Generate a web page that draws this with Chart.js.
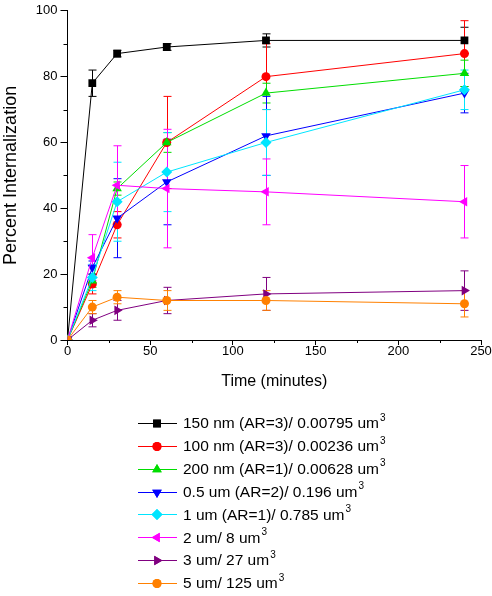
<!DOCTYPE html>
<html>
<head>
<meta charset="utf-8">
<script src="https://cdn.jsdelivr.net/npm/chart.js@4.4.1/dist/chart.umd.min.js"></script>
<style>
  html, body { margin: 0; padding: 0; background: #fff; }
  #wrap { width: 492px; height: 596px; position: relative; }
</style>
</head>
<body>
<div id="wrap"><canvas id="chart" width="492" height="596"></canvas></div>
<script>
// time points (minutes)
const times = [0, 15, 30, 60, 120, 240];

// legend labels (the trailing "3" is drawn as a superscript)
const seriesLabels = [
  '150 nm (AR=3)/ 0.00795 um',
  '100 nm (AR=3)/ 0.00236 um',
  '200 nm (AR=1)/ 0.00628 um',
  '0.5 um (AR=2)/ 0.196 um',
  '1 um (AR=1)/ 0.785 um',
  '2 um/ 8 um',
  '3 um/ 27 um',
  '5 um/ 125 um'
];

// percent internalization and error (+/-) for each particle
const nm150 = [0, 78, 87, 89, 91, 91];
const nm150Err = [0, 4, 1, 1, 2, 4];
const nm100 = [0, 17, 35, 60, 80, 87];
const nm100Err = [0, 3, 4, 14, 10, 10];
const nm200 = [0, 18, 46, 60, 75, 81];
const nm200Err = [0, 2, 2, 3, 3, 4];
const um05 = [0, 22, 37, 48, 62, 75];
const um05Err = [0, 2, 12, 13, 12, 6];
const um1 = [0, 19, 42, 51, 60, 76];
const um1Err = [0, 4, 12, 12, 10, 6];
const um2 = [0, 25, 47, 46, 45, 42];
const um2Err = [0, 7, 12, 18, 10, 11];
const um3 = [0, 6, 9, 12, 14, 15];
const um3Err = [0, 2, 3, 4, 5, 6];
const um5 = [0, 10, 13, 12, 12, 11];
const um5Err = [0, 2, 2, 3, 3, 4];

const xTicks = [0, 50, 100, 150, 200, 250];
const yTicks = [0, 20, 40, 60, 80, 100];

const FONT = '"Liberation Sans", Arial, Helvetica, sans-serif';

// style per series: colour, marker, rotation, radius
const styles = [
  { color: '#000000', point: 'rect', rot: 0, r: 5.5 },
  { color: '#ff0000', point: 'circle', rot: 0, r: 4.5 },
  { color: '#00dd00', point: 'triangle', rot: 0, r: 5.5 },
  { color: '#0000ff', point: 'triangle', rot: 180, r: 5.5 },
  { color: '#00e5ff', point: 'rectRot', rot: 0, r: 5.5 },
  { color: '#ff00ff', point: 'triangle', rot: -90, r: 5.5 },
  { color: '#800080', point: 'triangle', rot: 90, r: 5.5 },
  { color: '#ff8000', point: 'circle', rot: 0, r: 4.5 }
];

const values = [nm150, nm100, nm200, um05, um1, um2, um3, um5];
const errors = [nm150Err, nm100Err, nm200Err, um05Err, um1Err, um2Err, um3Err, um5Err];

const datasets = values.map((vals, i) => ({
  label: seriesLabels[i],
  data: vals.map((v, k) => ({ x: times[k], y: v })),
  errors: errors[i],
  borderColor: styles[i].color,
  backgroundColor: styles[i].color,
  borderWidth: 1,
  pointStyle: styles[i].point,
  pointRotation: styles[i].rot,
  pointRadius: styles[i].r,
  pointBorderWidth: 0,
  pointHoverRadius: styles[i].r,
  tension: 0,
  order: -i // later series drawn on top
}));

// error bars, drawn under the lines
const errorBarPlugin = {
  id: 'errorBars',
  beforeDatasetsDraw(chart) {
    const ctx = chart.ctx;
    const xs = chart.scales.x, ys = chart.scales.y;
    ctx.save();
    ctx.lineWidth = 1;
    chart.data.datasets.forEach((ds) => {
      ctx.strokeStyle = ds.borderColor;
      ds.data.forEach((p, k) => {
        const e = ds.errors[k];
        if (!e) return;
        const px = Math.round(xs.getPixelForValue(p.x)) + 0.5;
        const top = ys.getPixelForValue(p.y + e);
        const bot = ys.getPixelForValue(p.y - e);
        ctx.beginPath();
        ctx.moveTo(px, top); ctx.lineTo(px, bot);
        ctx.moveTo(px - 4, top); ctx.lineTo(px + 4, top);
        ctx.moveTo(px - 4, bot); ctx.lineTo(px + 4, bot);
        ctx.stroke();
      });
    });
    ctx.restore();
  }
};

// minor ticks on both axes
const minorTickPlugin = {
  id: 'minorTicks',
  afterDraw(chart) {
    const ctx = chart.ctx;
    const xs = chart.scales.x, ys = chart.scales.y;
    const area = chart.chartArea;
    ctx.save();
    ctx.strokeStyle = '#000';
    ctx.lineWidth = 1;
    ctx.beginPath();
    for (let v = 25; v < 250; v += 50) {
      const px = Math.round(xs.getPixelForValue(v)) + 0.5;
      ctx.moveTo(px, area.bottom); ctx.lineTo(px, area.bottom + 3);
    }
    for (let v = 10; v < 100; v += 20) {
      const py = Math.round(ys.getPixelForValue(v)) + 0.5;
      ctx.moveTo(area.left, py); ctx.lineTo(area.left - 4, py);
    }
    ctx.stroke();
    ctx.restore();
  }
};

function drawMarker(ctx, st, x, y) {
  if (Chart.helpers && Chart.helpers.drawPoint) {
    Chart.helpers.drawPoint(ctx, {
      pointStyle: st.point, rotation: st.rot, radius: st.r, borderWidth: 0
    }, x, y);
    ctx.fill();
    return;
  }
  ctx.beginPath();
  ctx.arc(x, y, st.r, 0, Math.PI * 2);
  ctx.fill();
}

// legend block under the plot, with superscript 3
const legendPlugin = {
  id: 'subLegend',
  afterDraw(chart) {
    const ctx = chart.ctx;
    const x0 = 138, x1 = 177, mx = 157, tx = 183;
    const y0 = 423, dy = 22.86;
    ctx.save();
    chart.data.datasets.forEach((ds, i) => {
      const y = y0 + i * dy;
      const st = styles[i];
      ctx.strokeStyle = st.color;
      ctx.fillStyle = st.color;
      ctx.lineWidth = 1;
      ctx.beginPath();
      ctx.moveTo(x0, Math.round(y) + 0.5);
      ctx.lineTo(x1, Math.round(y) + 0.5);
      ctx.stroke();
      drawMarker(ctx, st, mx, Math.round(y) + 0.5);

      ctx.fillStyle = '#000';
      ctx.textBaseline = 'middle';
      ctx.textAlign = 'left';
      ctx.font = '15.5px ' + FONT;
      ctx.fillText(ds.label, tx, y + 1);
      const w = ctx.measureText(ds.label).width;
      ctx.font = '10px ' + FONT;
      ctx.fillText('3', tx + w + 1, y - 5);
    });
    ctx.restore();
  }
};

new Chart(document.getElementById('chart'), {
  type: 'line',
  data: { datasets },
  options: {
    responsive: false,
    animation: false,
    layout: { padding: { left: 0, top: 8, right: 11, bottom: 205 } },
    plugins: {
      legend: { display: false },
      tooltip: { enabled: false }
    },
    scales: {
      x: {
        type: 'linear',
        min: 0,
        max: 250,
        afterBuildTicks: (s) => { s.ticks = xTicks.map(v => ({ value: v })); },
        afterFit: (s) => { s.height = 51; },
        grid: { display: true, drawOnChartArea: false, drawTicks: true, tickLength: 5, color: '#000' },
        border: { display: true, color: '#000', width: 1 },
        ticks: { color: '#000', font: { family: FONT, size: 13 }, padding: -1, maxRotation: 0 },
        title: { display: true, text: 'Time (minutes)', color: '#000', font: { family: FONT, size: 16 }, padding: { top: 4, bottom: 0 } }
      },
      y: {
        type: 'linear',
        min: 0,
        max: 100,
        afterBuildTicks: (s) => { s.ticks = yTicks.map(v => ({ value: v })); },
        afterFit: (s) => { s.width = 67.5; },
        grid: { display: true, drawOnChartArea: false, drawTicks: true, tickLength: 7, color: '#000' },
        border: { display: true, color: '#000', width: 1 },
        ticks: { color: '#000', font: { family: FONT, size: 13 }, padding: 3 },
        title: { display: true, text: 'Percent Internalization', color: '#000', font: { family: FONT, size: 18 }, padding: { top: 0, bottom: 0 } }
      }
    }
  },
  plugins: [errorBarPlugin, minorTickPlugin, legendPlugin]
});
</script>
</body>
</html>
